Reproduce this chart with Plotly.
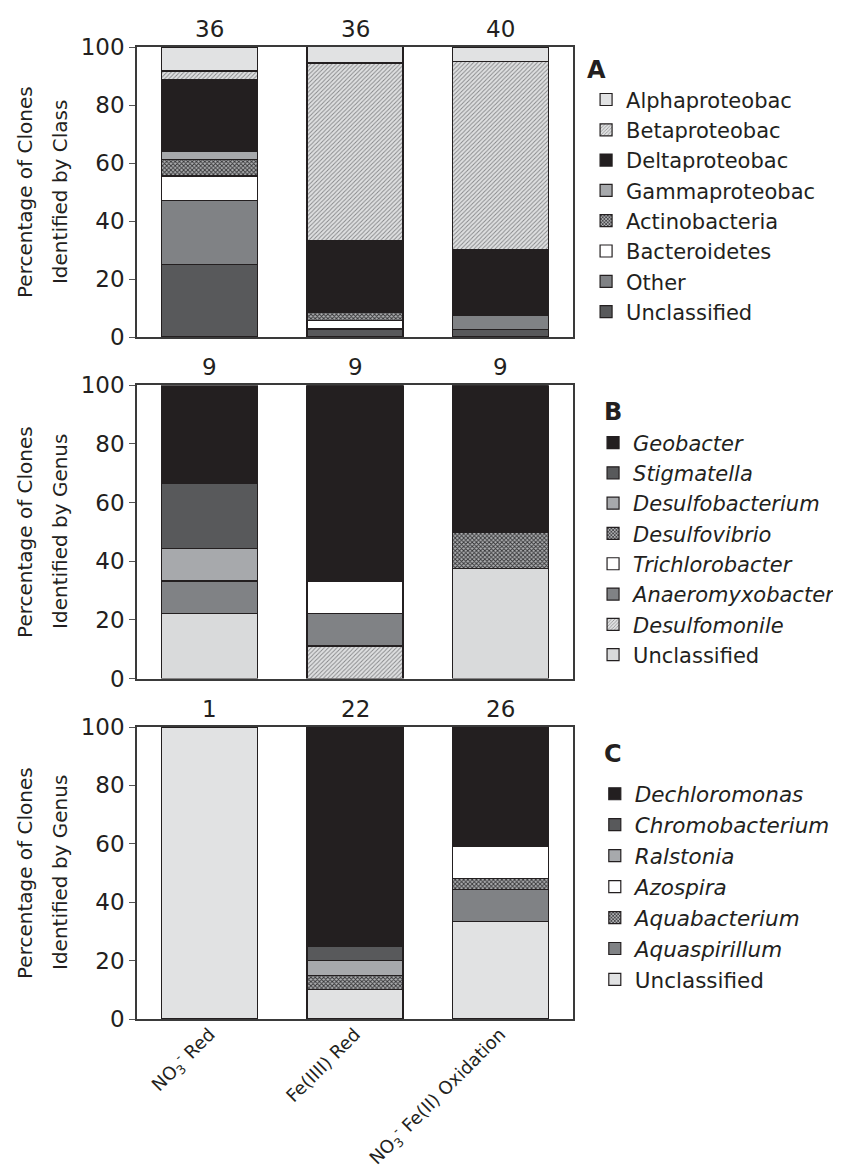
import plotly.graph_objects as go

# ---------------- data ----------------
categories = ["NO<sub>3</sub><sup>-</sup> Red", "Fe(IIII) Red",
              "NO<sub>3</sub><sup>-</sup> Fe(II) Oxidation"]

# Panel A (class level), listed bottom -> top of stack
a_names = ["Unclassified", "Other", "Bacteroidetes", "Actinobacteria",
           "Gammaproteobac", "Deltaproteobac", "Betaproteobac", "Alphaproteobac"]
a_unclassified = [25.0, 2.8, 2.5]
a_other = [22.2, 0, 5.0]
a_bacteroidetes = [8.3, 2.8, 0]
a_actino = [5.6, 2.8, 0]
a_gamma = [2.8, 0, 0]
a_delta = [25.0, 25.0, 22.5]
a_beta = [2.8, 61.1, 65.0]
a_alpha = [8.3, 5.6, 5.0]
a_counts = [36, 36, 40]

# Panel B (Deltaproteobacteria genera), bottom -> top
b_names = ["Unclassified", "<i>Desulfomonile</i>", "<i>Anaeromyxobacter</i>",
           "<i>Trichlorobacter</i>", "<i>Desulfovibrio</i>", "<i>Desulfobacterium</i>",
           "<i>Stigmatella</i>", "<i>Geobacter</i>"]
b_unclassified = [22.2, 0, 37.5]
b_desulfomonile = [0, 11.1, 0]
b_anaeromyxo = [11.1, 11.1, 0]
b_trichloro = [0, 11.1, 0]
b_desulfovibrio = [0, 0, 12.5]
b_desulfobacterium = [11.1, 0, 0]
b_stigmatella = [22.2, 0, 0]
b_geobacter = [33.3, 66.7, 50.0]
b_counts = [9, 9, 9]

# Panel C (Betaproteobacteria genera), bottom -> top
c_names = ["Unclassified", "<i>Aquaspirillum</i>", "<i>Aquabacterium</i>",
           "<i>Azospira</i>", "<i>Ralstonia</i>", "<i>Chromobacterium</i>",
           "<i>Dechloromonas</i>"]
c_unclassified = [100.0, 10.0, 33.3]
c_aquaspirillum = [0, 0, 11.1]
c_aquabacterium = [0, 5.0, 3.8]
c_azospira = [0, 0, 11.0]
c_ralstonia = [0, 5.0, 0]
c_chromo = [0, 5.0, 0]
c_dechloro = [0, 75.0, 40.8]
c_counts = [1, 22, 26]

ytitle_lines = [["Percentage of Clones", "Identified by Class"],
                ["Percentage of Clones", "Identified by Genus"],
                ["Percentage of Clones", "Identified by Genus"]]

# ---------------- styles ----------------
BLACK = "#231f20"
DARK = "#58595b"
MID = "#808285"
LIGHT = "#a7a9ac"
PALE = "#e1e2e3"
PALE_B = "#d9dadb"
WHITE = "#ffffff"
HATCH = dict(shape="/", fgcolor="#858688", bgcolor="#dfe0e1", size=3, solidity=0.3)
CROSS = dict(shape="x", fgcolor="#333335", bgcolor="#afb0b2", size=3, solidity=0.5)

FONT = "DejaVu Sans"

fig = go.Figure()


def add_panel(names, series, fills, xa, ya, legend):
    for name, vals, fill in zip(names, series, fills):
        y = [v if v else None for v in vals]
        if isinstance(fill, dict):
            marker = dict(color=fill["bgcolor"], pattern=dict(**fill, fillmode="replace"),
                          line=dict(color=BLACK, width=1.2))
        else:
            marker = dict(color=fill, line=dict(color=BLACK, width=1.2))
        fig.add_trace(go.Bar(x=categories, y=y, name=name, marker=marker,
                             xaxis=xa, yaxis=ya, legend=legend, hoverinfo="skip"))


add_panel(a_names,
          [a_unclassified, a_other, a_bacteroidetes, a_actino, a_gamma, a_delta, a_beta, a_alpha],
          [DARK, MID, WHITE, CROSS, LIGHT, BLACK, HATCH, PALE],
          "x", "y", "legend")
add_panel(b_names,
          [b_unclassified, b_desulfomonile, b_anaeromyxo, b_trichloro, b_desulfovibrio,
           b_desulfobacterium, b_stigmatella, b_geobacter],
          [PALE_B, HATCH, MID, WHITE, CROSS, LIGHT, DARK, BLACK],
          "x2", "y2", "legend2")
add_panel(c_names,
          [c_unclassified, c_aquaspirillum, c_aquabacterium, c_azospira, c_ralstonia,
           c_chromo, c_dechloro],
          [PALE, MID, CROSS, WHITE, LIGHT, DARK, BLACK],
          "x3", "y3", "legend3")

# counts above bars
for xa, ya, counts in [("x", "y", a_counts), ("x2", "y2", b_counts), ("x3", "y3", c_counts)]:
    for cat, n in zip(categories, counts):
        fig.add_annotation(x=cat, y=100, xref=xa, yref=ya, text=str(n), showarrow=False,
                           yanchor="bottom", yshift=3, font=dict(size=23, color=BLACK, family=FONT))

# panel letters
for letter, x, y in [("A", 1.055, 0.976), ("B", 1.092, 0.6242), ("C", 1.092, 0.2723)]:
    fig.add_annotation(x=x, y=y, xref="paper", yref="paper", text=f"<b>{letter}</b>",
                       xanchor="center", yanchor="middle",
                       showarrow=False, font=dict(size=24, color=BLACK, family=FONT))

# two-line y titles (rotated)
domains = [[0.7016, 1.0], [0.3502, 0.652], [0.0, 0.3004]]
for lines, dom in zip(ytitle_lines, domains):
    yc = (dom[0] + dom[1]) / 2
    for txt, xp in zip(lines, [-0.2569, -0.1766]):
        fig.add_annotation(x=xp, y=yc, xref="paper", yref="paper", text=txt,
                           textangle=-90, showarrow=False, xanchor="center", yanchor="middle",
                           font=dict(size=20, color=BLACK, family=FONT))

xcommon = dict(type="category", range=[-0.5, 2.5], showline=True, linecolor="#3a3a3a",
               linewidth=1.5, mirror=True, ticks="", fixedrange=True)
ycommon = dict(range=[0, 100], tickvals=[0, 20, 40, 60, 80, 100], ticks="outside",
               ticklen=6, tickcolor="#555555", showline=True, linecolor="#3a3a3a",
               linewidth=1.5, mirror=True, showgrid=False, zeroline=False,
               tickfont=dict(size=23, color=BLACK, family=FONT), automargin=False)

legend_common = dict(traceorder="reversed", bgcolor="rgba(0,0,0,0)", xanchor="left",
                     yanchor="top", itemclick=False, itemdoubleclick=False)

# page body has an 8px default margin: size the figure so the plot lands where the reference has it
fig.update_layout(
    width=833, height=1166,
    margin=dict(l=129, r=268, t=39, b=155, autoexpand=False),
    paper_bgcolor="white", plot_bgcolor="white",
    barmode="stack", bargap=0.34,
    font=dict(family=FONT, color=BLACK),
    xaxis=dict(**xcommon, anchor="y", showticklabels=False),
    xaxis2=dict(**xcommon, anchor="y2", showticklabels=False),
    xaxis3=dict(**xcommon, anchor="y3", showticklabels=True, tickangle=-45,
                ticklabelstandoff=-4,
                tickfont=dict(size=18, color=BLACK, family=FONT)),
    yaxis=dict(**ycommon, domain=domains[0]),
    yaxis2=dict(**ycommon, domain=domains[1]),
    yaxis3=dict(**ycommon, domain=domains[2]),
    legend=dict(**legend_common, x=1.030, y=0.9667, font=dict(size=21, color=BLACK, family=FONT)),
    legend2=dict(**legend_common, x=1.046, y=0.6138, font=dict(size=21, color=BLACK, family=FONT)),
    legend3=dict(**legend_common, x=1.050, y=0.2528, font=dict(size=21.5, color=BLACK, family=FONT)),
)

fig.write_html("out.html")
